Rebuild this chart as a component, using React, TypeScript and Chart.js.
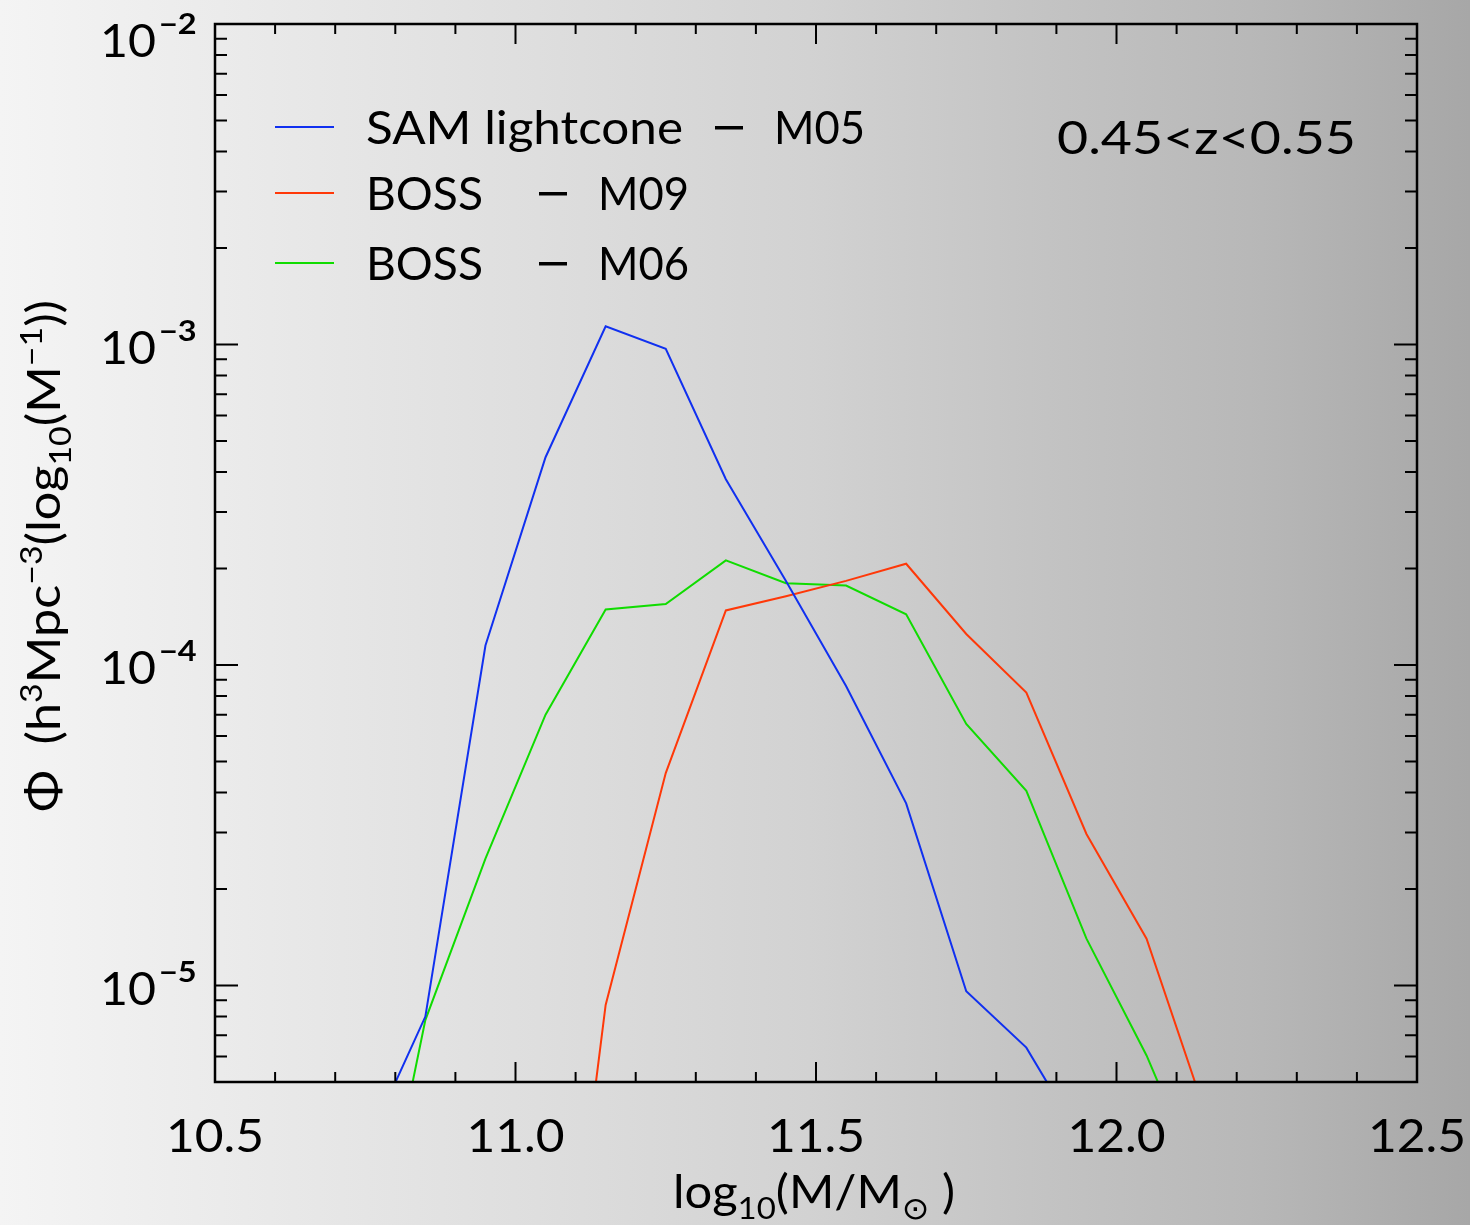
import React, { useEffect, useRef } from "react";
import { Chart, registerables } from "chart.js";

Chart.register(...registerables);

// ---- data ----
const massBins = [10.75, 10.85, 10.95, 11.05, 11.15, 11.25, 11.35, 11.45, 11.55, 11.65, 11.75, 11.85, 11.95, 12.05, 12.15];
const samM05 = [3.1e-6, 8.0e-6, 1.15e-4, 4.45e-4, 1.14e-3, 9.7e-4, 3.8e-4, 1.83e-4, 8.6e-5, 3.7e-5, 9.6e-6, 6.4e-6, 3.1e-6, null, null];
const bossM09 = [null, null, null, 2.8e-7, 8.7e-6, 4.6e-5, 1.48e-4, 1.64e-4, 1.83e-4, 2.07e-4, 1.25e-4, 8.2e-5, 2.97e-5, 1.4e-5, 3.9e-6];
const bossM06 = [9.5e-7, 7.8e-6, 2.49e-5, 7.0e-5, 1.49e-4, 1.55e-4, 2.12e-4, 1.8e-4, 1.77e-4, 1.44e-4, 6.55e-5, 4.05e-5, 1.4e-5, 6.05e-6, 2.2e-6];

const seriesNames = ["SAM lightcone", "BOSS", "BOSS"];
const seriesTags = ["M05", "M09", "M06"];
const seriesColors = ["#1030f0", "#ff3808", "#10dc00"];

const xMajorTicks = [10.5, 11.0, 11.5, 12.0, 12.5];
const xMinorTicks = [10.6, 10.7, 10.8, 10.9, 11.1, 11.2, 11.3, 11.4, 11.6, 11.7, 11.8, 11.9, 12.1, 12.2, 12.3, 12.4];
const yDecades = [-2, -3, -4, -5];
const annotation = "0.45<z<0.55";

const FONT = "Lato, 'DejaVu Sans', sans-serif";

type Seg = { t: string; s: number };

function textW(ctx: CanvasRenderingContext2D, t: string, x: number, y: number, align: CanvasTextAlign, k: number) {
  ctx.save();
  ctx.translate(x, y);
  ctx.scale(k, 1);
  ctx.textAlign = align;
  ctx.textBaseline = "alphabetic";
  ctx.fillText(t, 0, 0);
  ctx.restore();
}

function textFit(ctx: CanvasRenderingContext2D, t: string, x: number, y: number, width: number) {
  const w = ctx.measureText(t).width;
  textW(ctx, t, x, y, "left", width / w);
}

function drawRich(ctx: CanvasRenderingContext2D, segs: Seg[], x: number, y: number, fs: number, target: number) {
  const small = Math.round(fs * 0.68);
  const widths = segs.map((g) => {
    ctx.font = `${g.s === 0 ? fs : small}px ${FONT}`;
    return ctx.measureText(g.t).width;
  });
  const total = widths.reduce((a, b) => a + b, 0);
  const k = target / total;
  ctx.save();
  ctx.translate(x - target / 2, y);
  ctx.scale(k, 1);
  let cx = 0;
  ctx.textAlign = "left";
  ctx.textBaseline = "alphabetic";
  segs.forEach((g, i) => {
    ctx.font = `${g.s === 0 ? fs : small}px ${FONT}`;
    const dy = g.s > 0 ? -fs * 0.4 : g.s < 0 ? fs * 0.24 : 0;
    ctx.fillText(g.t, cx, dy);
    cx += widths[i];
  });
  ctx.restore();
}

const bgPlugin = {
  id: "bg",
  beforeDraw(chart: any) {
    const { ctx, width, height } = chart;
    const g = ctx.createLinearGradient(0, 0, width, 0);
    g.addColorStop(0, "#f4f4f4");
    g.addColorStop(0.15, "#ebebeb");
    g.addColorStop(0.35, "#dfdfdf");
    g.addColorStop(0.55, "#d2d2d2");
    g.addColorStop(0.7, "#c4c4c4");
    g.addColorStop(0.85, "#b8b8b8");
    g.addColorStop(1, "#a7a7a7");
    ctx.save();
    ctx.fillStyle = g;
    ctx.fillRect(0, 0, width, height);
    ctx.restore();
  },
};

const axesPlugin = {
  id: "axesDraw",
  afterDraw(chart: any) {
    const { ctx, chartArea } = chart;
    const { left, right, top, bottom } = chartArea;
    const xs = chart.scales.x;
    const ys = chart.scales.y;
    ctx.save();
    ctx.strokeStyle = "#000";
    ctx.fillStyle = "#000";
    ctx.lineWidth = 2;
    ctx.beginPath();
    xMajorTicks.forEach((v) => {
      const px = xs.getPixelForValue(v);
      ctx.moveTo(px, bottom); ctx.lineTo(px, bottom - 20);
      ctx.moveTo(px, top); ctx.lineTo(px, top + 20);
    });
    xMinorTicks.forEach((v) => {
      const px = xs.getPixelForValue(v);
      ctx.moveTo(px, bottom); ctx.lineTo(px, bottom - 10);
      ctx.moveTo(px, top); ctx.lineTo(px, top + 10);
    });
    yDecades.forEach((e) => {
      const py = ys.getPixelForValue(Math.pow(10, e));
      ctx.moveTo(left, py); ctx.lineTo(left + 23, py);
      ctx.moveTo(right, py); ctx.lineTo(right - 23, py);
    });
    [-3, -4, -5, -6].forEach((e) => {
      for (let m = 2; m <= 9; m++) {
        const v = m * Math.pow(10, e);
        if (v < ys.min * 0.999 || v > ys.max) continue;
        const py = ys.getPixelForValue(v);
        ctx.moveTo(left, py); ctx.lineTo(left + 12, py);
        ctx.moveTo(right, py); ctx.lineTo(right - 12, py);
      }
    });
    ctx.stroke();
    ctx.lineWidth = 2.5;
    ctx.strokeRect(left, top, right - left, bottom - top);

    // x tick labels
    ctx.font = `46px ${FONT}`;
    xMajorTicks.forEach((v) => {
      textW(ctx, v.toFixed(1), xs.getPixelForValue(v), 1152, "center", 1.08);
    });
    // y tick labels
    yDecades.forEach((e) => {
      const py = ys.getPixelForValue(Math.pow(10, e));
      const base = Math.max(py + 19, top + 33);
      ctx.font = `46px ${FONT}`;
      textW(ctx, "10", 156, base, "right", 1.05);
      ctx.font = `bold 29px ${FONT}`;
      textW(ctx, "\u2212" + String(-e), 159, base - 23, "left", 1.12);
    });

    // x title
    drawRich(ctx, [
      { t: "log", s: 0 },
      { t: "10", s: -1 },
      { t: "(M/M", s: 0 },
      { t: "\u2299", s: -1 },
      { t: " )", s: 0 },
    ], 814, 1208, 46, 282);

    // y title
    ctx.save();
    ctx.translate(60, 556);
    ctx.rotate(-Math.PI / 2);
    drawRich(ctx, [
      { t: "\u03A6  (h", s: 0 },
      { t: "3", s: 1 },
      { t: "Mpc", s: 0 },
      { t: "\u22123", s: 1 },
      { t: "(log", s: 0 },
      { t: "10", s: -1 },
      { t: "(M", s: 0 },
      { t: "\u22121", s: 1 },
      { t: "))", s: 0 },
    ], 0, 0, 46, 512);
    ctx.restore();

    // legend
    const rows = [127, 193, 263];
    const dashX = [715, 539, 539];
    const tagX = [774, 598, 598];
    const nameW = [317, 117, 117];
    rows.forEach((ry, i) => {
      ctx.strokeStyle = seriesColors[i];
      ctx.lineWidth = 2;
      ctx.beginPath();
      ctx.moveTo(275, ry);
      ctx.lineTo(334, ry);
      ctx.stroke();
      ctx.fillStyle = "#000";
      ctx.font = `46px ${FONT}`;
      textFit(ctx, seriesNames[i], 366, ry + 17, nameW[i]);
      ctx.fillRect(dashX[i], ry - 1, 28, 3.5);
      textFit(ctx, seriesTags[i], tagX[i], ry + 17, 91);
    });

    // annotation
    ctx.font = `46px ${FONT}`;
    textFit(ctx, annotation, 1057, 154, 299);
    ctx.restore();
  },
};

export default function App() {
  const ref = useRef<HTMLCanvasElement | null>(null);
  useEffect(() => {
    if (!ref.current) return;
    const mk = (arr: (number | null)[]) => massBins.map((x, i) => ({ x, y: arr[i] }));
    const chart = new Chart(ref.current, {
      type: "line",
      data: {
        datasets: [
          { label: "SAM lightcone - M05", data: mk(samM05) as any, borderColor: seriesColors[0], borderWidth: 2, pointRadius: 0, tension: 0 },
          { label: "BOSS - M09", data: mk(bossM09) as any, borderColor: seriesColors[1], borderWidth: 2, pointRadius: 0, tension: 0 },
          { label: "BOSS - M06", data: mk(bossM06) as any, borderColor: seriesColors[2], borderWidth: 2, pointRadius: 0, tension: 0 },
        ],
      },
      options: {
        animation: false,
        responsive: false,
        maintainAspectRatio: false,
        devicePixelRatio: 1,
        layout: { padding: { left: 215, right: 53, top: 24, bottom: 143 } },
        scales: {
          x: { type: "linear", min: 10.5, max: 12.5, display: false },
          y: { type: "logarithmic", min: 5e-6, max: 1e-2, display: false },
        },
        plugins: { legend: { display: false }, tooltip: { enabled: false } },
      },
      plugins: [bgPlugin, axesPlugin],
    });
    return () => chart.destroy();
  }, []);
  return (
    <div style={{ position: "fixed", left: 0, top: 0, width: 1470, height: 1225 }}>
      <canvas ref={ref} width={1470} height={1225} style={{ width: 1470, height: 1225, display: "block" }} />
    </div>
  );
}
